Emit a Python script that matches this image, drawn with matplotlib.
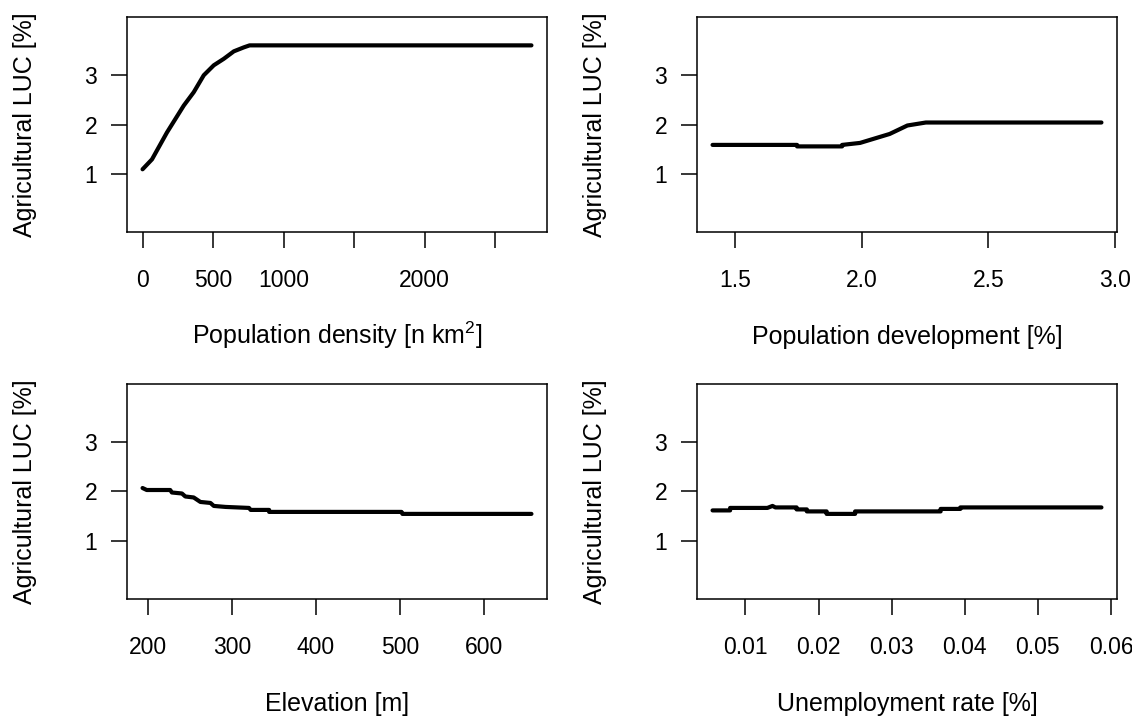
import numpy as np
import matplotlib
matplotlib.use("Agg")
import matplotlib.pyplot as plt

plt.rcParams['font.family'] = ['Liberation Sans', 'DejaVu Sans']
plt.rcParams['mathtext.fontset'] = 'custom'
plt.rcParams['mathtext.rm'] = 'Liberation Sans'
plt.rcParams['mathtext.default'] = 'regular'

# Partial dependence curves
dens_x = [0, 67, 173, 292, 363, 434, 505, 576, 647, 718, 759, 2757]
dens_y = [1.10, 1.30, 1.84, 2.38, 2.65, 2.99, 3.19, 3.32, 3.47, 3.55, 3.59, 3.59]

dev_x = [1.41, 1.744, 1.744, 1.922, 1.922, 1.993, 2.045, 2.11, 2.18, 2.253, 2.947]
dev_y = [1.59, 1.59, 1.56, 1.56, 1.59, 1.63, 1.71, 1.81, 1.98, 2.04, 2.04]

elev_x = [193, 198, 226, 228, 240, 244, 254, 262, 274, 278, 292, 320, 322, 344, 344, 502, 503, 657]
elev_y = [2.07, 2.03, 2.03, 1.98, 1.96, 1.90, 1.88, 1.79, 1.77, 1.71, 1.69, 1.67, 1.63, 1.63,
          1.59, 1.59, 1.55, 1.55]

unemp_x = [0.0055, 0.0079, 0.0079, 0.0130, 0.0137, 0.0141, 0.0170, 0.0170, 0.0184, 0.0184,
           0.0211, 0.0211, 0.0250, 0.0250, 0.0367, 0.0367, 0.0394, 0.0394, 0.0587]
unemp_y = [1.62, 1.62, 1.67, 1.67, 1.71, 1.68, 1.68, 1.64, 1.64, 1.60, 1.60, 1.55, 1.55,
           1.60, 1.60, 1.65, 1.65, 1.68, 1.68]

y_ticks = [1, 2, 3]
dens_ticks = [0, 500, 1000, 1500, 2000, 2500]
dens_labels = ["0", "500", "1000", "", "2000", ""]
dev_ticks = [1.5, 2.0, 2.5, 3.0]
elev_ticks = [200, 300, 400, 500, 600]
unemp_ticks = [0.01, 0.02, 0.03, 0.04, 0.05, 0.06]

panels = [
    (dens_x, dens_y, dens_ticks, dens_labels, "Population density [n km$^{2}$]"),
    (dev_x, dev_y, dev_ticks, ["1.5", "2.0", "2.5", "3.0"], "Population development [%]"),
    (elev_x, elev_y, elev_ticks, [str(t) for t in elev_ticks], "Elevation [m]"),
    (unemp_x, unemp_y, unemp_ticks, ["%.2f" % t for t in unemp_ticks], "Unemployment rate [%]"),
]

W, H = 1132, 718
boxes = [(127, 17), (697, 17), (127, 384), (697, 384)]
bw, bh = 420, 215

fig = plt.figure(figsize=(W / 100, H / 100), dpi=100)

for (x, y, ticks, labels, xlab), (left, top) in zip(panels, boxes):
    ax = fig.add_axes([left / W, 1 - (top + bh) / H, bw / W, bh / H])
    ax.plot(x, y, color="black", lw=3.0, solid_capstyle="round", solid_joinstyle="round")

    # R-style 4% range extension
    span = max(x) - min(x)
    ax.set_xlim(min(x) - 0.04 * span, max(x) + 0.04 * span)
    ax.set_ylim(-0.16, 4.16)

    ax.set_xticks(ticks)
    ax.set_xticklabels(labels)
    ax.set_yticks(y_ticks)
    ax.set_yticklabels([str(t) for t in y_ticks])
    ax.tick_params(direction="out", length=11.5, width=1.1, labelsize=16.5, colors="black")
    ax.tick_params(axis="x", pad=15)
    ax.tick_params(axis="y", pad=10)
    for s in ax.spines.values():
        s.set_linewidth(1.1)

    ax.set_xlabel(xlab, fontsize=18)
    ax.xaxis.label.set_va("baseline")
    ax.xaxis.set_label_coords(0.5, -112 / bh)
    ax.set_ylabel("Agricultural LUC [%]", fontsize=18)
    ax.yaxis.label.set_va("center")
    ax.yaxis.set_label_coords(-102 / bw, 0.5)

fig.savefig("out.png", dpi=100)
